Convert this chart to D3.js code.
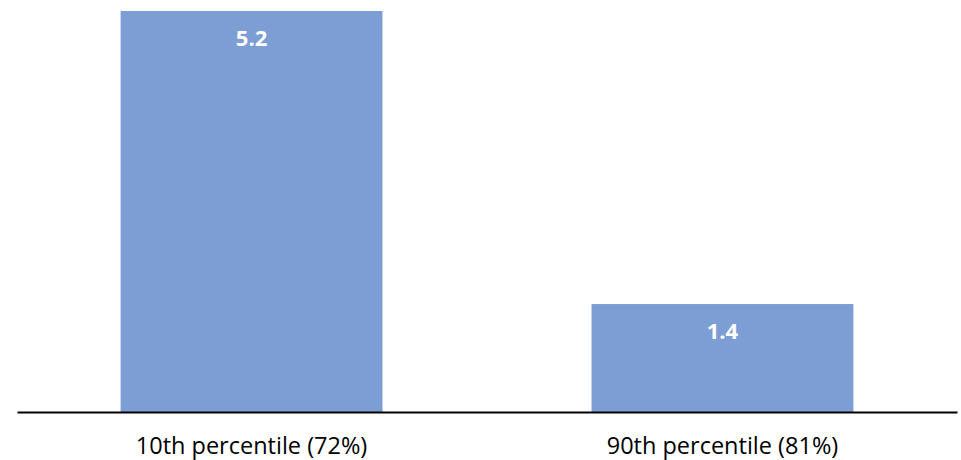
<!DOCTYPE html>
<html>
<head>
<meta charset="utf-8">
<script src="https://cdn.jsdelivr.net/npm/d3@7"></script>
<style>
  body { margin: 0; background: #fff; }
  text { font-family: "Open Sans", sans-serif; }
</style>
</head>
<body>
<script>
const w = 961
const h = 460
const baseY = 412

// data
const categories = ["10th percentile (72%)", "90th percentile (81%)"]
const values = [5.2, 1.4]
const valueLabels = ["5.2", "1.4"]

const x = d3.scaleBand()
    .domain(categories)
    .range([17, 957])
    .paddingInner(0.444)
    .paddingOuter(0.22)

const y = d3.scaleLinear()
    .domain([0, 5.2])
    .range([baseY, 11])

const svg = d3.create("svg")
    .attr("width", w)
    .attr("height", h)

// bars
svg.selectAll("rect")
    .data(values)
    .enter()
    .append("rect")
    .attr("x", (d, i) => x(categories[i]))
    .attr("y", d => y(d))
    .attr("width", x.bandwidth())
    .attr("height", d => y(0) - y(d))
    .attr("fill", "#7D9DD5")

// value labels inside bars
svg.selectAll(".val")
    .data(values)
    .enter()
    .append("text")
    .attr("class", "val")
    .attr("x", (d, i) => x(categories[i]) + x.bandwidth() / 2)
    .attr("y", d => y(d) + 35)
    .attr("text-anchor", "middle")
    .attr("fill", "#fff")
    .attr("font-weight", "bold")
    .attr("font-size", 22)
    .text((d, i) => valueLabels[i])

// x axis
const axis = svg.append("g")
    .attr("transform", `translate(0,${baseY})`)
    .call(d3.axisBottom(x).tickSize(0).tickPadding(25))

axis.select(".domain")
    .attr("stroke", "#000")
    .attr("stroke-width", 2)

axis.selectAll(".tick text")
    .attr("font-size", 23.5)
    .attr("fill", "#000")
    .style("font-family", "'Open Sans', sans-serif")

d3.select("body")
    .append(() => svg.node())
</script>
</body>
</html>
